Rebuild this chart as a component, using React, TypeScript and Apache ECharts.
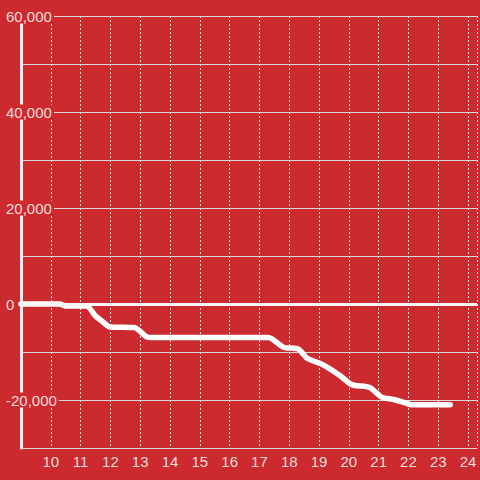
import React, { useEffect, useRef } from "react";
import * as echarts from "echarts";

const hours = [9, 10.3, 10.5, 11.2, 11.5, 11.7, 12.0, 12.8, 13.2, 13.4, 17.3, 17.8, 18.3, 18.6, 19.0, 19.2, 19.7, 20.1, 20.7, 21.1, 21.5, 21.9, 22.1, 23.4];
const values = [0, 0, -400, -400, -2500, -3500, -4800, -4900, -6800, -7000, -7000, -9000, -9400, -11300, -12300, -12900, -14900, -16800, -17400, -19400, -19900, -20600, -21000, -21000];
const yTicks = [-20000, 0, 20000, 40000, 60000];

const BG = "#cc2a2f";
const LABEL = "#f3dcdc";

export default function App() {
  const ref = useRef<HTMLDivElement>(null);
  useEffect(() => {
    if (!ref.current) return;
    const chart = echarts.init(ref.current, null, { renderer: "svg" });
    chart.setOption({
      animation: false,
      backgroundColor: BG,
      grid: { left: 21, right: 0, top: 16, bottom: 32 },
      xAxis: {
        type: "value",
        min: 9,
        max: 24.3,
        interval: 1,
        axisLine: { onZero: false, lineStyle: { color: "#d8d8d8", width: 1 } },
        axisTick: { show: false },
        axisLabel: {
          color: LABEL,
          fontSize: 15,
          fontFamily: "Liberation Sans",
          margin: 6,
          formatter: (v: number) => (Number.isInteger(v) && v > 9 ? String(v) : ""),
        },
        splitLine: { show: true, lineStyle: { color: "#e8e8e8", width: 1, type: [2, 2] } },
      },
      yAxis: {
        type: "value",
        min: -30000,
        max: 60000,
        interval: 10000,
        axisLine: { show: true, lineStyle: { color: "#f2f2f2", width: 3 } },
        axisTick: { show: false },
        axisLabel: {
          color: LABEL,
          fontSize: 15,
          fontFamily: "Liberation Sans",
          align: "left",
          margin: 16,
          backgroundColor: BG,
          padding: [0, 2, 0, 1],
          formatter: (v: number) =>
            yTicks.includes(v) ? v.toLocaleString("en-US") : "",
        },
        splitLine: { show: true, lineStyle: { color: "#d8d8d8", width: 1 } },
      },
      series: [
        {
          type: "line",
          data: hours.map((h, i) => [h, values[i]]),
          showSymbol: false,
          smooth: 0.25,
          lineStyle: { color: "#ffffff", width: 5.5, cap: "round", join: "round" },
          markLine: {
            silent: true,
            symbol: "none",
            label: { show: false },
            lineStyle: { color: "#f5f5f5", width: 3, type: "solid" },
            data: [{ yAxis: 0 }],
          },
        },
      ],
    });
    return () => chart.dispose();
  }, []);
  return <div ref={ref} style={{ width: 480, height: 480, position: "absolute", left: 0, top: 0 }} />;
}
